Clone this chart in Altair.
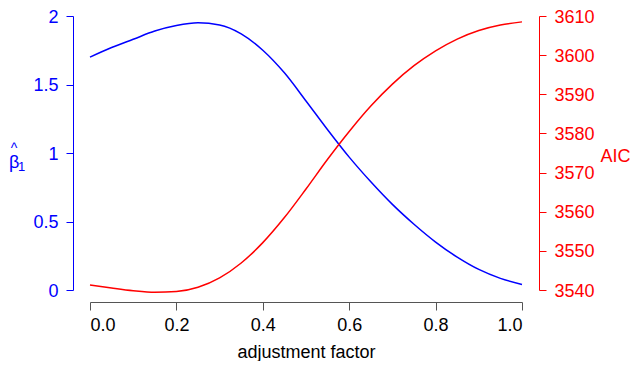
import altair as alt
import pandas as pd

factor = [0.0, 0.05, 0.10, 0.15, 0.20, 0.25, 0.30, 0.35, 0.40, 0.45, 0.50,
          0.55, 0.60, 0.65, 0.70, 0.75, 0.80, 0.85, 0.90, 0.95, 1.00]
beta_hat = [1.70, 1.77, 1.83, 1.89, 1.93, 1.95, 1.935, 1.87, 1.75, 1.585, 1.38,
            1.17, 0.97, 0.79, 0.625, 0.48, 0.35, 0.24, 0.15, 0.085, 0.04]
aic = [3541.3, 3540.5, 3539.8, 3539.4, 3539.6, 3540.7, 3543.1, 3546.9, 3552.1, 3558.5, 3565.8,
       3573.4, 3580.5, 3587.0, 3592.6, 3597.3, 3601.1, 3604.1, 3606.3, 3607.7, 3608.5]

x_ticks = [0.0, 0.2, 0.4, 0.6, 0.8, 1.0]
beta_ticks = [0, 0.5, 1, 1.5, 2]
aic_ticks = [3540, 3550, 3560, 3570, 3580, 3590, 3600, 3610]

df = pd.DataFrame({"factor": factor, "beta": beta_hat, "aic": aic})

FONT = "Liberation Sans"
BLUE = "#0000ff"
RED = "#ff0000"

base = alt.Chart(df).encode(
    x=alt.X(
        "factor:Q",
        scale=alt.Scale(domain=[0, 1], nice=False),
        axis=alt.Axis(
            values=x_ticks, format=".1f", offset=12, tickSize=8,
            domainColor="#555555", tickColor="#555555", labelColor="black",
            labelFontSize=18, labelFont=FONT, labelPadding=6,
            title="adjustment factor", titleFontSize=18, titleFont=FONT,
            titleFontWeight="normal", titleColor="black",
            titleY=55, titleBaseline="alphabetic",
            grid=False,
        ),
    )
)

blue = base.mark_line(color=BLUE, strokeWidth=1.5, interpolate="monotone").encode(
    y=alt.Y(
        "beta:Q",
        scale=alt.Scale(domain=[0, 2], nice=False, zero=False),
        axis=alt.Axis(
            orient="left", values=beta_ticks, labelExpr="'' + datum.value",
            offset=17, tickSize=7, domainColor=BLUE, tickColor=BLUE,
            labelColor=BLUE, labelFontSize=18, labelFont=FONT, labelPadding=8,
            labelOffset=1, title=None, grid=False,
        ),
    )
)

red = base.mark_line(color=RED, strokeWidth=1.5, interpolate="monotone").encode(
    y=alt.Y(
        "aic:Q",
        scale=alt.Scale(domain=[3540, 3610], nice=False, zero=False),
        axis=alt.Axis(
            orient="right", values=aic_ticks, format="d",
            offset=17, tickSize=7, domainColor=RED, tickColor=RED,
            labelColor=RED, labelFontSize=18, labelFont=FONT, labelPadding=8,
            labelOffset=1,
            title="AIC", titleAngle=0, titleX=61, titleY=140, titleAlign="left",
            titleBaseline="middle", titleColor=RED, titleFontSize=18,
            titleFont=FONT, titleFontWeight="normal", grid=False,
        ),
    )
)

# y-axis title: beta with hat and subscript 1
one = pd.DataFrame({"k": [0]})
beta_sym = alt.Chart(one).mark_text(
    text="β", font=FONT, fontSize=18, color=BLUE, align="left", baseline="alphabetic"
).encode(x=alt.value(-81), y=alt.value(152))
beta_hat_sym = alt.Chart(one).mark_text(
    text="^", font=FONT, fontSize=14, color=BLUE, align="center", baseline="alphabetic"
).encode(x=alt.value(-76), y=alt.value(137))
beta_sub = alt.Chart(one).mark_text(
    text="1", font=FONT, fontSize=13, color=BLUE, align="left", baseline="alphabetic"
).encode(x=alt.value(-72), y=alt.value(155))

chart = (
    alt.layer(blue, red, beta_sym, beta_hat_sym, beta_sub)
    .resolve_scale(y="independent")
    .properties(
        width=432, height=274, autosize="none",
        padding={"left": 82, "top": 8, "right": 109, "bottom": 71},
    )
    .configure_view(stroke=None)
)

chart.save("out.html", embed_options={"renderer": "svg", "actions": False})
